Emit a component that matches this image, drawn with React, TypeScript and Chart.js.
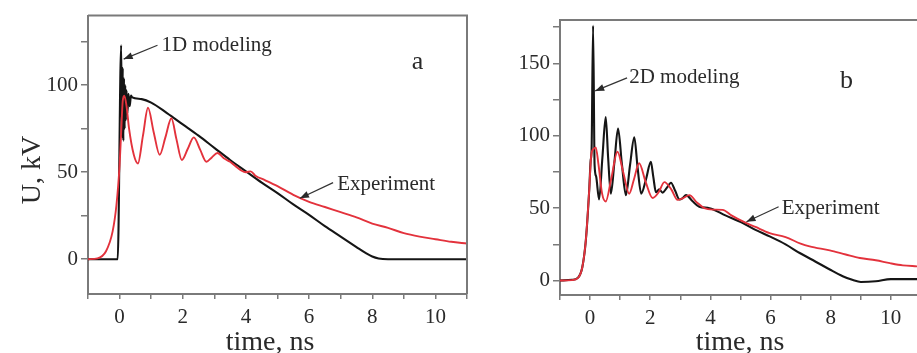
import { useEffect, useRef } from 'react';
import { Chart, registerables } from 'chart.js';
Chart.register(...registerables);

// ---------- Panel a: 1D modeling vs experiment ----------
const timeA1D = [-1, -0.1, -0.06, 0.05, 0.08, 0.1, 0.12, 0.14, 0.16, 0.18, 0.2, 0.22, 0.25, 0.28, 0.32, 0.36, 0.4, 0.7, 1.0, 1.5, 2.0, 2.5, 3.0, 3.5, 4.0, 4.5, 5.0, 5.5, 6.0, 6.5, 7.0, 7.5, 7.8, 8.0, 8.2, 8.5, 11];
const voltA1D = [0, 0, 0, 123, 70, 110, 68, 104, 75, 100, 80, 97, 84, 95, 88, 94, 93, 92, 90, 84, 77.5, 71, 64, 57, 50.5, 44, 38, 31.5, 25.5, 19, 13, 7, 3.5, 1.5, 0.4, 0, 0];

const timeAExp = [-1, -0.7, -0.43, -0.22, -0.1, 0, 0.05, 0.1, 0.15, 0.22, 0.3, 0.45, 0.58, 0.74, 0.9, 1.08, 1.27, 1.45, 1.64, 1.8, 1.97, 2.16, 2.35, 2.55, 2.75, 2.92, 3.1, 3.3, 3.5, 3.7, 3.85, 4.0, 4.15, 4.3, 4.6, 5.0, 5.5, 6.0, 6.5, 7.0, 7.5, 8.0, 8.5, 9.0, 9.5, 10.0, 10.5, 11];
const voltAExp = [0, 0.5, 4.6, 16, 31, 54, 73, 91, 94, 88, 75, 60, 55, 71, 87, 73, 60, 70, 81, 69, 57, 63.5, 70, 63, 56, 58.5, 61, 58, 56, 53, 51, 50, 50.5, 48, 45.5, 42, 37, 33, 30, 27, 24, 20.5, 18, 15, 13, 11.5, 10, 9];

// ---------- Panel b: 2D modeling vs experiment ----------
const timeB2D = [-1, -0.6, -0.4, -0.26, -0.14, -0.03, 0.02, 0.05, 0.1, 0.15, 0.2, 0.3, 0.41, 0.52, 0.6, 0.69, 0.81, 0.93, 1.06, 1.19, 1.33, 1.47, 1.58, 1.7, 1.86, 2.02, 2.1, 2.19, 2.3, 2.41, 2.55, 2.69, 2.83, 2.97, 3.08, 3.19, 3.4, 3.63, 3.97, 4.5, 5.08, 5.5, 5.97, 6.5, 6.97, 7.5, 7.97, 8.4, 8.74, 9.0, 9.5, 10.0, 10.5, 11];
const voltB2D = [0, 0.5, 2, 9, 28, 62, 83, 90, 176, 80, 72, 56, 85, 113, 85, 60, 82, 105, 80, 59, 80, 99, 78, 60, 70, 82, 72, 61, 63, 60.7, 64, 67.6, 62, 56, 57, 59, 55, 51, 50, 45, 39.7, 35, 30.5, 25, 19, 13, 7.6, 3, 0.3, -1, -0.5, 1, 1, 1];

const timeBExp = [-1, -0.6, -0.4, -0.26, -0.14, -0.03, 0.04, 0.12, 0.19, 0.28, 0.4, 0.52, 0.7, 0.91, 1.1, 1.3, 1.46, 1.63, 1.85, 2.08, 2.28, 2.47, 2.7, 2.91, 3.1, 3.3, 3.55, 3.8, 4.1, 4.41, 4.7, 5.08, 5.5, 5.97, 6.5, 7.0, 7.3, 7.97, 8.5, 8.97, 9.5, 9.97, 10.4, 10.87];
const voltBExp = [0, 0.3, 1.8, 9, 28, 62, 87, 91, 92, 80, 60, 54.6, 70, 89, 75, 60, 70, 81, 68, 57, 61, 68, 63, 55.7, 57, 59, 54, 50, 49, 48.8, 45, 40.8, 37, 32.8, 30, 25.5, 23.6, 20.8, 18, 15.6, 14, 12, 10.5, 9.8];

// ---------- Axes ----------
const xRange = [-1, 11];
const xRangeB = [-1, 10.87];
const yRangeA = [-20, 140];
const yRangeB = [-10, 180];
const xLabelStep = 2;
const yLabelStep = 50;

// Annotations (data coordinates)
const notesA = [
  { text: '1D modeling', tx: 1.33, ty: 123, ax: 1.2, ay: 123, hx: 0.13, hy: 115 },
  { text: 'Experiment', tx: 6.89, ty: 43, ax: 6.76, ay: 44, hx: 5.71, hy: 35 },
];
const notesB = [
  { text: '2D modeling', tx: 1.3, ty: 140, ax: 1.23, ay: 140, hx: 0.17, hy: 131 },
  { text: 'Experiment', tx: 6.37, ty: 50, ax: 6.27, ay: 51, hx: 5.2, hy: 40.6 },
];

const SERIF = "'Liberation Serif', 'Times New Roman', serif";
const AXIS = '#7a7a7a';
const TXT = '#2a2a2a';
const BLACK = '#151515';
const RED = '#e3323c';

const toPts = (xs: number[], ys: number[]) => xs.map((x, i) => ({ x, y: ys[i] }));

const overlay = {
  id: 'overlay',
  afterDraw(chart: any, _args: any, opts: any) {
    const { ctx, chartArea, scales } = chart;
    const x = scales.x, y = scales.y;
    ctx.save();
    ctx.strokeStyle = AXIS;
    ctx.lineWidth = 2;
    ctx.beginPath();
    ctx.moveTo(chartArea.left, chartArea.top);
    ctx.lineTo(chartArea.right, chartArea.top);
    if (opts.rightBorder) ctx.lineTo(chartArea.right, chartArea.bottom);
    ctx.stroke();

    ctx.fillStyle = TXT;
    ctx.strokeStyle = '#333';
    for (const n of opts.notes) {
      ctx.font = `21px ${SERIF}`;
      ctx.textBaseline = 'middle';
      ctx.textAlign = 'left';
      ctx.fillText(n.text, x.getPixelForValue(n.tx), y.getPixelForValue(n.ty));
      const x1 = x.getPixelForValue(n.ax), y1 = y.getPixelForValue(n.ay);
      const x2 = x.getPixelForValue(n.hx), y2 = y.getPixelForValue(n.hy);
      ctx.lineWidth = 1.2;
      ctx.beginPath();
      ctx.moveTo(x1, y1);
      ctx.lineTo(x2, y2);
      ctx.stroke();
      const ang = Math.atan2(y2 - y1, x2 - x1);
      const L = 9, W = 3.5;
      ctx.beginPath();
      ctx.moveTo(x2, y2);
      ctx.lineTo(x2 - L * Math.cos(ang) + W * Math.sin(ang), y2 - L * Math.sin(ang) - W * Math.cos(ang));
      ctx.lineTo(x2 - L * Math.cos(ang) - W * Math.sin(ang), y2 - L * Math.sin(ang) + W * Math.cos(ang));
      ctx.closePath();
      ctx.fill();
    }
    // panel letter
    ctx.font = `26px ${SERIF}`;
    ctx.textAlign = 'center';
    ctx.textBaseline = 'middle';
    ctx.fillText(opts.letter.text, x.getPixelForValue(opts.letter.x), y.getPixelForValue(opts.letter.y));
    // axis titles
    ctx.font = `28px ${SERIF}`;
    ctx.textAlign = 'center';
    ctx.textBaseline = 'alphabetic';
    ctx.fillText('time, ns', opts.xTitleX, 350);
    if (opts.yTitle) {
      ctx.translate(40, 170);
      ctx.rotate(-Math.PI / 2);
      ctx.textBaseline = 'alphabetic';
      ctx.fillText(opts.yTitle, 0, 0);
    }
    ctx.restore();
  },
};

function makeConfig(p: any) {
  return {
    type: 'line',
    data: {
      datasets: [
        { data: p.exp, borderColor: RED, borderWidth: 1.9, pointRadius: 0, cubicInterpolationMode: 'monotone' },
        { data: p.model, borderColor: BLACK, borderWidth: 2.1, pointRadius: 0, cubicInterpolationMode: 'monotone' },
      ],
    },
    options: {
      animation: false,
      responsive: false,
      layout: { padding: p.padding },
      plugins: {
        legend: { display: false },
        tooltip: { enabled: false },
        overlay: p.overlay,
      },
      scales: {
        x: {
          type: 'linear',
          min: p.xr[0],
          max: p.xr[1],
          afterFit: (s: any) => { s.height = p.xh; },
          border: { color: AXIS, width: 2 },
          grid: { drawOnChartArea: false, tickLength: 5, color: AXIS, lineWidth: 1.5 },
          ticks: {
            stepSize: 1,
            includeBounds: false,
            autoSkip: false,
            maxRotation: 0,
            padding: 6,
            color: TXT,
            font: { family: SERIF, size: 21 },
            callback: (v: number) => (v % xLabelStep === 0 ? String(v) : ''),
          },
        },
        y: {
          min: p.yr[0],
          max: p.yr[1],
          afterFit: (s: any) => { s.width = p.yw; },
          border: { color: AXIS, width: 2 },
          grid: { drawOnChartArea: false, tickLength: 7, color: AXIS, lineWidth: 1.5 },
          ticks: {
            stepSize: 25,
            includeBounds: false,
            autoSkip: false,
            padding: 3,
            color: TXT,
            font: { family: SERIF, size: 21 },
            callback: (v: number) => (v % yLabelStep === 0 ? String(v) : ''),
          },
        },
      },
    },
    plugins: [overlay],
  } as any;
}

export default function App() {
  const refA = useRef<HTMLCanvasElement>(null);
  const refB = useRef<HTMLCanvasElement>(null);
  useEffect(() => {
    const a = new Chart(refA.current!, makeConfig({
      exp: toPts(timeAExp, voltAExp),
      model: toPts(timeA1D, voltA1D),
      xr: xRange, yr: yRangeA,
      xh: 59, yw: 88,
      padding: { top: 13, right: 13, left: 0, bottom: 0 },
      overlay: { notes: notesA, rightBorder: true, letter: { text: 'a', x: 9.43, y: 113 }, xTitleX: 270, yTitle: 'U, kV' },
    }));
    const b = new Chart(refB.current!, makeConfig({
      exp: toPts(timeBExp, voltBExp),
      model: toPts(timeB2D, voltB2D),
      xr: xRangeB, yr: yRangeB,
      xh: 58, yw: 90,
      padding: { top: 20, right: 0, left: 0, bottom: 0 },
      overlay: { notes: notesB, rightBorder: false, letter: { text: 'b', x: 8.53, y: 138 }, xTitleX: 270, yTitle: '' },
    }));
    return () => { a.destroy(); b.destroy(); };
  }, []);
  return (
    <div style={{ position: 'fixed', left: 0, top: 0, width: 917, height: 353, overflow: 'hidden', background: '#fff' }}>
      <canvas ref={refA} width={480} height={353} style={{ position: 'absolute', left: 0, top: 0 }} />
      <canvas ref={refB} width={447} height={353} style={{ position: 'absolute', left: 470, top: 0 }} />
    </div>
  );
}
